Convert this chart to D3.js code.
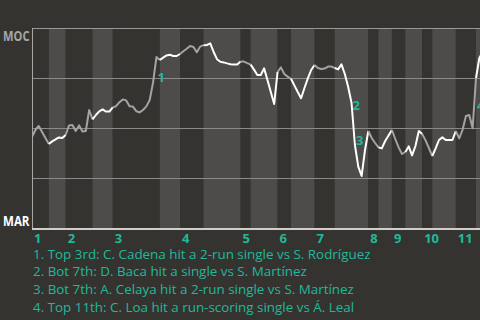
<!DOCTYPE html>
<html>
<head>
<meta charset="utf-8">
<script src="https://cdn.jsdelivr.net/npm/d3@7"></script>
<style>
  html, body { margin: 0; padding: 0; background: #353330; }
  svg { display: block; }
  text { font-family: "Open Sans", "Noto Sans", sans-serif; }
</style>
</head>
<body>
<svg id="chart" width="480" height="320"></svg>
<script>
// ---- data ----
const teams = ["MOC", "MAR"];
const innings = ["1","2","3","4","5","6","7","8","9","10","11"];
// number of plays in each half-inning (top 1, bottom 1, top 2, ...)
const halfPlays = [5,5,8,6,14,6,7,11,3,8,4,7,6,10,3,4,4,5,3,7,6,4];
// MOC win probability (%) after each play
const winProb = [
  45.5,49,51,48,45,42,43.3,44.3,45.3,45,
  46.5,51.3,51.5,48.5,51.3,48.3,48.5,59,54.3,56.5,
  58.3,59.3,58.2,58.2,60.3,60.9,62.9,64.3,63.8,60.9,
  60.7,58.4,57.8,59,60.8,64,72.8,85.5,84,85.2,
  86.3,86.6,86,86,87,88.4,89.6,91,90.5,87.9,
  90.7,91.4,91.5,92.3,88,84.4,83.1,82.8,82.3,81.9,
  81.8,81.8,83.3,83.2,82.4,81.7,79.2,76.5,76.5,79.8,
  74,68,62,78,80.3,77,75.7,74.6,71.3,68,
  64.9,70,74.8,79,81.5,80,79.5,79.7,80.7,80.7,
  80,79.3,81.8,77,70.5,62.5,41.5,30.7,26,39,
  48.5,45,42.5,40.3,39.8,43.5,46.3,49,44.5,40.3,
  37,38,40.8,36.3,41,48.5,47,43.8,40,36,
  39.8,44,45.3,44,44,44,48.5,44.8,49,56,
  56.5,49.9,75,85,88,89
];
const eventText = [
  "1. Top 3rd: C. Cadena hit a 2-run single vs S. Rodríguez",
  "2. Bot 7th: D. Baca hit a single vs S. Martínez",
  "3. Bot 7th: A. Celaya hit a 2-run single vs S. Martínez",
  "4. Top 11th: C. Loa hit a run-scoring single vs Á. Leal"
];
const eventPlay = [37, 95, 96, 132];
const eventLabelWp = [75.5, 61.5, 43.75, 61.5];

// ---- layout ----
const W = 480, H = 320;
const plot = { left: 32, top: 28, bottom: 228 };
const teal = "#1fb99a";

const svg = d3.select("#chart");

const x = d3.scaleLinear().domain([0, 132]).range([plot.left, 476]);
const y = d3.scaleLinear().domain([0, 100]).range([plot.bottom, plot.top]);

// half-inning start indices
const starts = [0];
halfPlays.forEach((n, i) => starts.push(starts[i] + n));

svg.append("rect").attr("width", W).attr("height", H).attr("fill", "#353330");

svg.append("clipPath").attr("id", "clip")
  .append("rect").attr("x", plot.left).attr("y", 0).attr("width", W - plot.left).attr("height", H);

const g = svg.append("g").attr("clip-path", "url(#clip)");

// bands
g.selectAll("rect.band").data(halfPlays).join("rect")
  .attr("class", "band")
  .attr("x", (d, i) => x(starts[i]))
  .attr("width", (d, i) => x(starts[i + 1]) - x(starts[i]))
  .attr("y", plot.top)
  .attr("height", plot.bottom - plot.top)
  .attr("fill", (d, i) => i % 2 === 0 ? "#353330" : "#4e4c4a");

// gridlines
g.selectAll("line.grid").data([25, 50, 75]).join("line")
  .attr("x1", plot.left).attr("x2", W)
  .attr("y1", d => y(d) + 0.5).attr("y2", d => y(d) + 0.5)
  .attr("stroke", "#8c8a88").attr("stroke-width", 1);

// top border
svg.append("line").attr("x1", plot.left).attr("x2", W)
  .attr("y1", plot.top + 0.5).attr("y2", plot.top + 0.5)
  .attr("stroke", "#9a9896").attr("stroke-width", 1);
// left border
svg.append("line").attr("x1", plot.left + 0.5).attr("x2", plot.left + 0.5)
  .attr("y1", plot.top).attr("y2", plot.bottom + 2)
  .attr("stroke", "#a8a6a4").attr("stroke-width", 1);

// line segments colored by half-inning
function halfOf(i) {
  let h = 0;
  while (h + 1 < starts.length && starts[h + 1] <= i) h++;
  return h;
}
const segs = d3.range(winProb.length - 1).map(i => ({ i, h: halfOf(i) }));
const groups = [];
segs.forEach(s => {
  const last = groups[groups.length - 1];
  if (last && last.h === s.h) last.idx.push(s.i + 1);
  else groups.push({ h: s.h, idx: [s.i, s.i + 1] });
});
const line = d3.line().x(i => x(i)).y(i => y(winProb[i]));
g.selectAll("path.wp").data(groups).join("path")
  .attr("class", "wp")
  .attr("d", d => line(d.idx))
  .attr("fill", "none")
  .attr("stroke", d => d.h % 2 === 0 ? "#a3a3a3" : "#ffffff")
  .attr("stroke-width", 2)
  .attr("stroke-linejoin", "round");

// event markers
g.selectAll("text.ev").data(eventPlay).join("text")
  .attr("class", "ev")
  .attr("x", (d) => x(d) + 1)
  .attr("y", (d, i) => y(eventLabelWp[i]))
  .attr("dy", "0.35em")
  .attr("fill", teal)
  .attr("font-size", 13)
  .attr("font-weight", "bold")
  .text((d, i) => i + 1);

// bottom axis line
svg.append("line").attr("x1", plot.left).attr("x2", W)
  .attr("y1", plot.bottom + 1).attr("y2", plot.bottom + 1)
  .attr("stroke", "#d0cecc").attr("stroke-width", 2);

// inning labels
svg.selectAll("text.inn").data(innings).join("text")
  .attr("class", "inn")
  .attr("x", (d, i) => x(starts[i * 2]) + 2)
  .attr("y", 243)
  .attr("fill", teal)
  .attr("font-size", 13)
  .attr("font-weight", "bold")
  .text(d => d);

// team labels
svg.append("text").attr("x", 3).attr("y", 40.5)
  .attr("textLength", 26.5).attr("lengthAdjust", "spacingAndGlyphs")
  .attr("fill", "#a6a6a6").attr("font-size", 14).attr("font-weight", "bold").text(teams[0]);
svg.append("text").attr("x", 3).attr("y", 226)
  .attr("textLength", 26.5).attr("lengthAdjust", "spacingAndGlyphs")
  .attr("fill", "#ffffff").attr("font-size", 13.5).attr("font-weight", "bold").text(teams[1]);

// event list
svg.selectAll("text.leg").data(eventText).join("text")
  .attr("class", "leg")
  .attr("x", 33)
  .attr("y", (d, i) => 258.5 + i * 17.8)
  .attr("fill", teal)
  .attr("font-size", 13.4)
  .text(d => d);
</script>
</body>
</html>
